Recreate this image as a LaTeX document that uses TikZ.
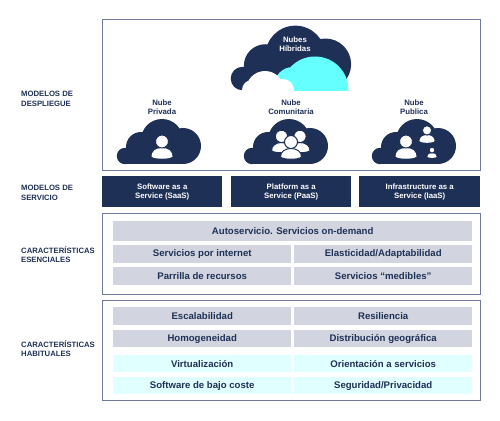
\documentclass[tikz,border=0pt]{standalone}
\usepackage{fontspec}
\setmainfont{Liberation Sans}
\usepackage{xcolor}
\definecolor{navy}{RGB}{31,48,86}
\definecolor{marcogris}{RGB}{110,122,158}
\definecolor{filagris}{RGB}{210,213,223}
\definecolor{filacian}{RGB}{224,255,255}
\definecolor{nubecian}{RGB}{102,255,255}
\tikzset{
  marco/.style={draw=marcogris, line width=1pt, fill=white},
  fila/.style={
    rectangle, anchor=north west, fill=filagris, inner sep=0pt, align=center,
    text=navy, font=\fontsize{9.6}{11}\selectfont\bfseries
  },
  filaluz/.style={fila, fill=filacian},
  servicio/.style={
    rectangle, anchor=north west, fill=navy, text=white, inner sep=0pt, align=center,
    minimum height=31pt, font=\fontsize{7.8}{9.4}\selectfont\bfseries
  },
  rotulo/.style={
    anchor=west, inner sep=0pt, align=left, text=navy,
    font=\fontsize{7.7}{9.4}\selectfont\bfseries
  },
  titnube/.style={
    inner sep=0pt, align=center, text=navy,
    font=\fontsize{7.8}{9.4}\selectfont\bfseries
  },
  nube/.pic={
    \fill[navy] (8,-8) circle[radius=8.2] (24,-17) circle[radius=15]
      (45,-24) circle[radius=21] (66,-18) circle[radius=18];
    \fill[navy] (8,-16) rectangle (66,0);
  },
  persona/.pic={
    \fill[white] (-10.5,-2.5) .. controls (-10.5,-8) and (-6,-11) .. (0,-11)
      .. controls (6,-11) and (10.5,-8) .. (10.5,-2.5)
      .. controls (8,0.5) and (-8,0.5) .. (-10.5,-2.5);
    \filldraw[fill=white, draw=navy, line width=1pt] (0,-17.5) circle[radius=6.5];
  },
  personacon/.pic={
    \filldraw[fill=white, draw=navy, line width=1pt] (-10.5,-2.5) .. controls (-10.5,-8) and (-6,-11) .. (0,-11)
      .. controls (6,-11) and (10.5,-8) .. (10.5,-2.5)
      .. controls (8,0.5) and (-8,0.5) .. (-10.5,-2.5);
    \filldraw[fill=white, draw=navy, line width=1pt] (0,-17.5) circle[radius=6.5];
  }
}
\begin{document}
\begin{tikzpicture}[x=1pt, y=-1pt]
  \useasboundingbox (0,0) rectangle (500,420);
  % marcos
  \draw[marco] (102,20) rectangle (480,170);
  \draw[marco] (102,213) rectangle (480,294);
  \draw[marco] (102,300) rectangle (480,400);
  % rotulos
  \node[rotulo] (despliegue) at (21,99) {MODELOS DE\\DESPLIEGUE};
  \node[rotulo] (modserv) at (21,193) {MODELOS DE\\SERVICIO};
  \node[rotulo] (esenciales) at (21,254.5) {CARACTERÍSTICAS\\ESENCIALES};
  \node[rotulo] (habituales) at (21,348.5) {CARACTERÍSTICAS\\HABITUALES};
  % nube hibrida
  \pic[scale=1.43] at (231,90) {nube};
  \begin{scope}
    \clip (225,20) rectangle (360,90);
    \fill[nubecian] (315,90) circle[radius=33.5] (293,86) circle[radius=19];
    \fill[white] (265,90) circle[radius=19] (252,90) circle[radius=10] (283,90) circle[radius=11];
  \end{scope}
  \node[titnube, text=white] (hibridas) at (295,44.5) {Nubes\\Híbridas};
  % nubes
  \pic at (117,164) {nube};
  \pic at (244,164) {nube};
  \pic at (372,164) {nube};
  \node[titnube] (privada) at (162,107.5) {Nube\\Privada};
  \node[titnube] (comunitaria) at (291,107.5) {Nube\\Comunitaria};
  \node[titnube] (publica) at (414,107.5) {Nube\\Publica};
  % personas
  \pic at (162,159) {persona};
  \pic[scale=.95] at (281.5,153) {personacon};
  \pic[scale=.95] at (300,153) {personacon};
  \pic at (291,159.5) {personacon};
  \pic at (406,159) {persona};
  \pic[scale=.72] at (427,143) {persona};
  \pic[scale=.45] at (432,158) {persona};
  % servicios
  \node[servicio, minimum width=120pt] (saas) at (102,176) {Software as a\\Service (SaaS)};
  \node[servicio, minimum width=120pt] (paas) at (231,176) {Platform as a\\Service (PaaS)};
  \node[servicio, minimum width=121pt] (iaas) at (359,176) {Infrastructure as a\\Service (IaaS)};
  % esenciales
  \node[fila, minimum width=359pt, minimum height=20pt] (auto) at (113,221) {Autoservicio. Servicios on-demand};
  \node[fila, minimum width=178pt, minimum height=18pt] (internet) at (113,245) {Servicios por internet};
  \node[fila, minimum width=178pt, minimum height=18pt] (elast) at (294,245) {Elasticidad/Adaptabilidad};
  \node[fila, minimum width=178pt, minimum height=18pt] (parrilla) at (113,267) {Parrilla de recursos};
  \node[fila, minimum width=178pt, minimum height=18pt] (medibles) at (294,267) {Servicios “medibles”};
  % habituales
  \node[fila, minimum width=178pt, minimum height=18pt] (escala) at (113,307) {Escalabilidad};
  \node[fila, minimum width=178pt, minimum height=18pt] (resil) at (294,307) {Resiliencia};
  \node[fila, minimum width=178pt, minimum height=17pt] (homog) at (113,330) {Homogeneidad};
  \node[fila, minimum width=178pt, minimum height=17pt] (distrib) at (294,330) {Distribución geográfica};
  \node[filaluz, minimum width=178pt, minimum height=17pt] (virtual) at (113,355) {Virtualización};
  \node[filaluz, minimum width=178pt, minimum height=17pt] (orient) at (294,355) {Orientación a servicios};
  \node[filaluz, minimum width=178pt, minimum height=17pt] (bajo) at (113,377) {Software de bajo coste};
  \node[filaluz, minimum width=178pt, minimum height=17pt] (seguridad) at (294,377) {Seguridad/Privacidad};
\end{tikzpicture}
\end{document}
